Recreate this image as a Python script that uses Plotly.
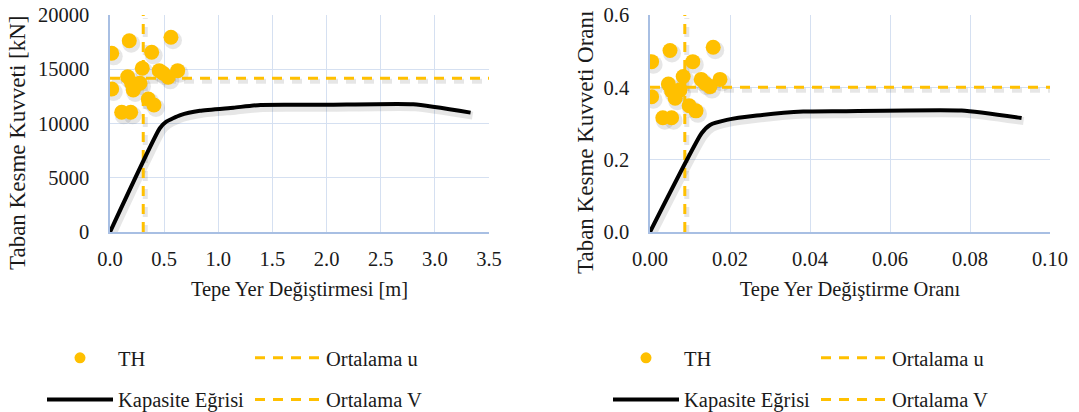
import plotly.graph_objects as go

# ---- Left panel: roof displacement [m] vs base shear [kN] ----
th_disp = [0.016, 0.178, 0.563, 0.385, 0.298, 0.163, 0.455, 0.538, 0.625,
           0.016, 0.200, 0.215, 0.277, 0.354, 0.406, 0.108, 0.191, 0.490]
th_shear = [16470, 17630, 17950, 16560, 15090, 14310, 14870, 14260, 14870,
            13180, 13710, 13090, 13710, 12260, 11710, 11030, 11030, 14630]
cap_disp = [0.0, 0.46, 0.52, 0.65, 0.83, 1.14, 1.39, 2.0, 2.8, 3.33]
cap_shear = [0, 9560, 10170, 10780, 11180, 11460, 11710, 11720, 11770, 11000]
mean_disp, mean_shear = 0.307, 14170

# ---- Right panel: drift ratio vs base shear ratio ----
th_drift = [0.0004, 0.0050, 0.0158, 0.0107, 0.0083, 0.0046, 0.0128, 0.0150, 0.0175,
            0.0004, 0.0054, 0.0063, 0.0075, 0.0098, 0.0115, 0.0032, 0.0054, 0.0138]
th_ratio = [0.471, 0.502, 0.511, 0.471, 0.430, 0.409, 0.422, 0.402, 0.422,
            0.374, 0.390, 0.370, 0.393, 0.349, 0.335, 0.316, 0.316, 0.411]
cap_drift = [0.0, 0.0129, 0.0150, 0.0192, 0.0267, 0.0383, 0.0475, 0.0779, 0.0929]
cap_ratio = [0.0, 0.273, 0.296, 0.310, 0.322, 0.333, 0.334, 0.336, 0.315]
mean_drift, mean_ratio = 0.0087, 0.400

# axis settings
left_x_range, left_y_range = [0, 3.5], [0, 20000]
right_x_range, right_y_range = [0, 0.10], [0, 0.6]

GOLD = "#FFC000"
SHADOW = "rgba(60,60,60,0.13)"
GRID = "#D5E0F1"
AXLINE = "#A8BFE3"
FONT = "Liberation Serif, Times New Roman, serif"
FS = 20.5
TITLE_FS = 23
TXT = "#1a1a1a"
W, H = 1079, 412

# plot-area pixel boxes (left, right, top, bottom)
LEFT_BOX = (110, 489, 15, 232)
RIGHT_BOX = (650, 1050, 15, 232)
SHADOW_DX, SHADOW_DY = 2, 3  # drop-shadow offset in px

fig = go.Figure()


def add_panel(main, shadow, xs, ys, cx, cy, mx, my, xr, yr, leg_a, leg_b):
    xa, ya = main
    sxa, sya = shadow

    # soft drop shadows, drawn on the hidden base axes (offset range)
    for px, py in (([mx, mx], yr), (xr, [my, my])):
        fig.add_trace(go.Scatter(
            x=px, y=py, mode="lines", showlegend=False, hoverinfo="skip",
            line=dict(color=SHADOW, width=5, dash="10px,8px"),
            xaxis=sxa, yaxis=sya))
    fig.add_trace(go.Scatter(
        x=xs, y=ys, mode="markers", showlegend=False, hoverinfo="skip",
        marker=dict(color=SHADOW, size=18, line=dict(width=0)),
        xaxis=sxa, yaxis=sya))
    fig.add_trace(go.Scatter(
        x=cx, y=cy, mode="lines", showlegend=False, hoverinfo="skip",
        line=dict(color=SHADOW, width=8, shape="spline", smoothing=0.5),
        xaxis=sxa, yaxis=sya))

    # mean lines
    fig.add_trace(go.Scatter(
        x=[mx, mx], y=yr, mode="lines", name="Ortalama u",
        line=dict(color=GOLD, width=3, dash="10px,8px"),
        xaxis=xa, yaxis=ya, legend=leg_b, legendgroup=leg_b + "u"))
    fig.add_trace(go.Scatter(
        x=xr, y=[my, my], mode="lines", name="Ortalama V",
        line=dict(color=GOLD, width=3, dash="10px,8px"),
        xaxis=xa, yaxis=ya, legend=leg_b, legendgroup=leg_b + "v"))
    # time-history results
    fig.add_trace(go.Scatter(
        x=xs, y=ys, mode="markers", name="TH", showlegend=False,
        marker=dict(color=GOLD, size=15, line=dict(width=0)),
        xaxis=xa, yaxis=ya))
    # legend key for the TH markers (smaller symbol)
    fig.add_trace(go.Scatter(
        x=[None], y=[None], mode="markers", name="TH",
        marker=dict(color=GOLD, size=11, line=dict(width=0)),
        xaxis=xa, yaxis=ya, legend=leg_a, legendgroup=leg_a + "th"))
    # pushover capacity curve
    fig.add_trace(go.Scatter(
        x=cx, y=cy, mode="lines", name="Kapasite Eğrisi",
        line=dict(color="black", width=4, shape="spline", smoothing=0.5),
        xaxis=xa, yaxis=ya, legend=leg_a, legendgroup=leg_a + "cap"))


# visible axes: x3/y3 (left), x4/y4 (right); hidden shadow bases: x/y, x2/y2
add_panel(("x3", "y3"), ("x", "y"), th_disp, th_shear, cap_disp, cap_shear,
          mean_disp, mean_shear, left_x_range, left_y_range,
          "legend", "legend2")
add_panel(("x4", "y4"), ("x2", "y2"), th_drift, th_ratio, cap_drift, cap_ratio,
          mean_drift, mean_ratio, right_x_range, right_y_range,
          "legend3", "legend4")


def shifted(rng, box, horizontal):
    """Axis range offset so traces land a few pixels right/down."""
    span = rng[1] - rng[0]
    if horizontal:
        d = -span * SHADOW_DX / (box[1] - box[0])
    else:
        d = span * SHADOW_DY / (box[3] - box[2])
    return [rng[0] + d, rng[1] + d]


def xdom(box):
    return [box[0] / W, box[1] / W]


def ydom(box):
    return [(H - box[3]) / H, (H - box[2]) / H]


axis_common = dict(
    showgrid=True, gridcolor=GRID, gridwidth=1.3,
    showline=True, linecolor=AXLINE, linewidth=1.5,
    zeroline=False, ticks="", mirror=False, automargin=False,
    tickfont=dict(family=FONT, size=FS, color=TXT),
    title_font=dict(family=FONT, size=FS, color=TXT),
)
hidden = dict(visible=False, showgrid=False, zeroline=False,
              fixedrange=True, automargin=False)

ITEM_W = 66
legend_common = dict(
    orientation="v", bgcolor="rgba(0,0,0,0)", borderwidth=0,
    font=dict(family=FONT, size=FS, color=TXT), itemwidth=ITEM_W,
    tracegroupgap=12, yanchor="top", xanchor="left", itemclick=False,
)

LEG_TOP = (H - 338) / H
TEXT_OFFSET = ITEM_W + 10  # legend text starts this far from the entry edge

fig.update_layout(
    width=W, height=H,
    margin=dict(l=0, r=0, t=0, b=0, autoexpand=False),
    paper_bgcolor="white", plot_bgcolor="white",
    font=dict(family=FONT, size=FS, color=TXT),
    showlegend=True,
    # hidden base axes carrying the drop shadows
    xaxis=dict(domain=xdom(LEFT_BOX), anchor="y",
               range=shifted(left_x_range, LEFT_BOX, True), **hidden),
    yaxis=dict(domain=ydom(LEFT_BOX), anchor="x",
               range=shifted(left_y_range, LEFT_BOX, False), **hidden),
    xaxis2=dict(domain=xdom(RIGHT_BOX), anchor="y2",
                range=shifted(right_x_range, RIGHT_BOX, True), **hidden),
    yaxis2=dict(domain=ydom(RIGHT_BOX), anchor="x2",
                range=shifted(right_y_range, RIGHT_BOX, False), **hidden),
    # visible axes
    xaxis3=dict(domain=xdom(LEFT_BOX), overlaying="x", range=left_x_range,
                dtick=0.5, tickformat=".1f", anchor="y3", ticklabelstandoff=8,
                title=dict(text="Tepe Yer Değiştirmesi [m]", standoff=12),
                **axis_common),
    yaxis3=dict(domain=ydom(LEFT_BOX), overlaying="y", range=left_y_range,
                dtick=5000, tickformat="d", anchor="x3", ticklabelstandoff=15,
                **axis_common),
    xaxis4=dict(domain=xdom(RIGHT_BOX), overlaying="x2", range=right_x_range,
                dtick=0.02, tickformat=".2f", anchor="y4", ticklabelstandoff=8,
                title=dict(text="Tepe Yer Değiştirme Oranı", standoff=12),
                **axis_common),
    yaxis4=dict(domain=ydom(RIGHT_BOX), overlaying="y2", range=right_y_range,
                dtick=0.2, tickformat=".1f", anchor="x4", ticklabelstandoff=15,
                **axis_common),
    legend=dict(x=(118 - TEXT_OFFSET) / W, y=LEG_TOP, **legend_common),
    legend2=dict(x=(326 - TEXT_OFFSET) / W, y=LEG_TOP, **legend_common),
    legend3=dict(x=(684 - TEXT_OFFSET) / W, y=LEG_TOP, **legend_common),
    legend4=dict(x=(892 - TEXT_OFFSET) / W, y=LEG_TOP, **legend_common),
    annotations=[
        dict(text="Taban Kesme Kuvveti [kN]", textangle=-90,
             x=18 / W, y=(H - 143) / H, xref="paper", yref="paper",
             showarrow=False, xanchor="center", yanchor="middle",
             font=dict(family=FONT, size=TITLE_FS, color=TXT)),
        dict(text="Taban Kesme Kuvveti Oranı", textangle=-90,
             x=586 / W, y=(H - 143) / H, xref="paper", yref="paper",
             showarrow=False, xanchor="center", yanchor="middle",
             font=dict(family=FONT, size=TITLE_FS, color=TXT)),
    ],
)

fig.write_html("out.html")
